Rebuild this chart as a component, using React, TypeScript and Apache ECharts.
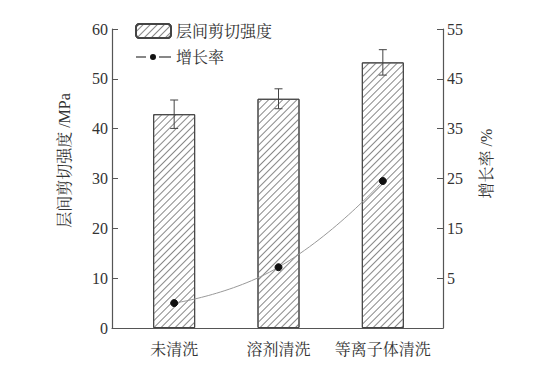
import React, { useEffect, useRef } from "react";
import * as echarts from "echarts";

const categories = ["未清洗", "溶剂清洗", "等离子体清洗"];
const strength = [42.9, 46.0, 53.3];
const strengthErr = [2.85, 2.0, 2.55];
const growthRate = [0, 7.2, 24.5];

const FONT = "'Liberation Serif', 'Noto Serif CJK SC', 'Noto Sans CJK SC', serif";
const AX = "#555";

const LINE_ICON =
  "path://M0,0h0.01v0.01h-0.01z M34.99,13.99h0.01v0.01h-0.01z M0,6.4h10v1.2h-10z M14,7a3,3 0 1,0 6,0a3,3 0 1,0 -6,0z M23,6.4h12v1.2h-12z";

export default function App() {
  const ref = useRef<HTMLDivElement>(null);
  useEffect(() => {
    if (!ref.current) return;
    const chart = echarts.init(ref.current, undefined, { renderer: "svg" });
    const errData = categories.map((c, i) => [i, strength[i] - strengthErr[i], strength[i] + strengthErr[i]]);
    const decal = {
      symbol: "rect",
      symbolSize: 1,
      dashArrayX: [1, 0],
      dashArrayY: [1, 3.5],
      rotation: -Math.PI / 4,
      color: "#888",
    };
    chart.setOption({
      animation: false,
      textStyle: { fontFamily: FONT },
      grid: [
        { left: 122, right: 123, top: 29, bottom: 45 },
        { left: 112, right: 115, top: 29, bottom: 45 },
      ],
      legend: {
        orient: "vertical",
        left: 135,
        top: 23,
        padding: 0,
        itemWidth: 35,
        itemHeight: 14,
        itemGap: 10,
        textStyle: { fontFamily: FONT, fontSize: 16, color: "#333" },
        data: [{ name: "层间剪切强度" }, { name: "增长率", icon: LINE_ICON }],
      },
      xAxis: [
        {
          type: "category",
          gridIndex: 0,
          data: categories,
          axisLine: { show: false },
          axisTick: { show: false },
          axisLabel: { fontFamily: FONT, fontSize: 16, color: "#333", margin: 13, interval: 0 },
        },
        {
          type: "value",
          gridIndex: 1,
          axisLine: { show: true, onZero: false, lineStyle: { color: AX, width: 1.2 } },
          axisTick: { show: false },
          axisLabel: { show: false },
          splitLine: { show: false },
        },
      ],
      yAxis: [
        {
          type: "value",
          gridIndex: 0,
          min: 0,
          max: 60,
          interval: 10,
          offset: 10,
          name: "层间剪切强度 /MPa",
          nameLocation: "middle",
          nameGap: 40,
          nameRotate: 90,
          nameTextStyle: { fontFamily: FONT, fontSize: 16, color: "#333", padding: [0, 0, 0, 36] },
          axisLine: { show: true, lineStyle: { color: AX, width: 1.2 } },
          axisTick: { show: true, inside: true, length: 6, lineStyle: { color: AX } },
          axisLabel: { fontFamily: FONT, fontSize: 16, color: "#333", margin: 4 },
          splitLine: { show: false },
        },
        {
          type: "value",
          gridIndex: 0,
          position: "right",
          min: -5,
          max: 55,
          interval: 10,
          offset: 8,
          name: "增长率 /%",
          nameLocation: "middle",
          nameGap: 35,
          nameRotate: 90,
          nameTextStyle: { fontFamily: FONT, fontSize: 16, color: "#333", padding: [0, 0, 0, 30] },
          axisLine: { show: true, lineStyle: { color: AX, width: 1.2 } },
          axisTick: { show: true, inside: true, length: 6, lineStyle: { color: AX } },
          axisLabel: {
            fontFamily: FONT,
            fontSize: 16,
            color: "#333",
            margin: 4,
            formatter: (v: number) => (v < 0 ? "" : String(v)),
          },
          splitLine: { show: false },
        },
        { type: "value", gridIndex: 1, show: false },
      ],
      series: [
        {
          name: "层间剪切强度",
          type: "bar",
          xAxisIndex: 0,
          yAxisIndex: 0,
          data: strength,
          barWidth: 42,
          itemStyle: { color: "#fff", borderColor: "#444", borderWidth: 1, decal },
        },
        {
          name: "err",
          type: "custom",
          xAxisIndex: 0,
          yAxisIndex: 0,
          data: errData,
          z: 5,
          renderItem: (params: any, api: any) => {
            const x = api.value(0);
            const lo = api.coord([x, api.value(1)]);
            const hi = api.coord([x, api.value(2)]);
            const hw = 4;
            const style = { stroke: "#444", lineWidth: 1 };
            return {
              type: "group",
              children: [
                { type: "line", shape: { x1: lo[0], y1: lo[1], x2: hi[0], y2: hi[1] }, style },
                { type: "line", shape: { x1: hi[0] - hw, y1: hi[1], x2: hi[0] + hw, y2: hi[1] }, style },
                { type: "line", shape: { x1: lo[0] - hw, y1: lo[1], x2: lo[0] + hw, y2: lo[1] }, style },
              ],
            };
          },
        },
        {
          name: "增长率",
          type: "line",
          xAxisIndex: 0,
          yAxisIndex: 1,
          data: growthRate,
          smooth: true,
          symbol: "circle",
          symbolSize: 7,
          z: 6,
          lineStyle: { color: "#999", width: 1 },
          itemStyle: { color: "#111", borderColor: "#111" },
        },
      ],
    });
    return () => chart.dispose();
  }, []);
  return <div ref={ref} style={{ position: "fixed", left: 0, top: 0, width: 558, height: 373, background: "#fff" }} />;
}
